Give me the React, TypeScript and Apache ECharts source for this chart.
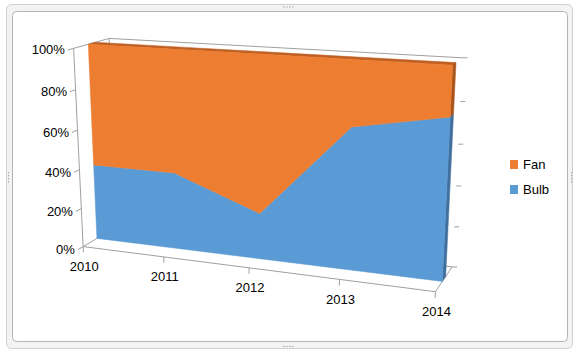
import React, { useEffect, useRef } from "react";
import * as echarts from "echarts";

const categories = ["2010", "2011", "2012", "2013", "2014"];
const bulb = [39, 39, 23, 69, 77];
const fan = [61, 61, 77, 31, 23];
const yTickValues = [0, 20, 40, 60, 80, 100];
const yTickLabels = ["0%", "20%", "40%", "60%", "80%", "100%"];

const FONT = "'Liberation Sans', Arial, sans-serif";
const BLUE = "#5B9BD5";
const ORANGE = "#ED7D31";
const ORANGE_TOP = "#BF5F22";
const ORANGE_SIDE = "#A9551D";
const BLUE_SIDE = "#41709E";
const LINE = "#9f9f9f";

// world (X: category 0..1, Y: value 0..1, Z: depth 0 front .. 1 back) -> screen calibration
const CALIB: number[][] = [
  [0, 1, 0, 73, 48],
  [0, 0, 0, 85, 245],
  [1, 0, 0, 436, 292],
  [0, 1, 1, 110, 38],
  [1, 1, 1, 463, 58],
  [1, 0, 1, 452, 266],
  [0, 1, 0.4, 88, 45],
  [1, 1, 0.4, 452, 65],
  [1, 0, 0.4, 442, 282],
  [0, 0, 0.4, 95, 240],
];
const ZF = 0.4;
const ZB = 0.6;

function solveLinear(M: number[][], r: number[]): number[] {
  const n = r.length;
  const a = M.map((row, i) => [...row, r[i]]);
  for (let c = 0; c < n; c++) {
    let piv = c;
    for (let k = c + 1; k < n; k++) if (Math.abs(a[k][c]) > Math.abs(a[piv][c])) piv = k;
    [a[c], a[piv]] = [a[piv], a[c]];
    for (let k = 0; k < n; k++) {
      if (k === c) continue;
      const f = a[k][c] / a[c][c];
      for (let j = c; j <= n; j++) a[k][j] -= f * a[c][j];
    }
  }
  return a.map((row, i) => row[n] / row[i]);
}

function fitCamera(pts: number[][]): number[] {
  const A: number[][] = [];
  const b: number[] = [];
  for (const [X, Y, Z, u, v] of pts) {
    A.push([X, Y, Z, 1, 0, 0, 0, 0, -u * X, -u * Y, -u * Z]);
    b.push(u);
    A.push([0, 0, 0, 0, X, Y, Z, 1, -v * X, -v * Y, -v * Z]);
    b.push(v);
  }
  const n = 11;
  const M = Array.from({ length: n }, () => new Array(n).fill(0));
  const r = new Array(n).fill(0);
  for (let k = 0; k < A.length; k++) {
    for (let i = 0; i < n; i++) {
      r[i] += A[k][i] * b[k];
      for (let j = 0; j < n; j++) M[i][j] += A[k][i] * A[k][j];
    }
  }
  return solveLinear(M, r);
}

export default function App() {
  const ref = useRef<HTMLDivElement>(null);
  useEffect(() => {
    const el = ref.current!;
    const chart = echarts.init(el, null, { renderer: "svg" });
    const cam = fitCamera(CALIB);
    const proj = (X: number, Y: number, Z: number): number[] => {
      const w = cam[8] * X + cam[9] * Y + cam[10] * Z + 1;
      return [
        (cam[0] * X + cam[1] * Y + cam[2] * Z + cam[3]) / w,
        (cam[4] * X + cam[5] * Y + cam[6] * Z + cam[7]) / w,
      ];
    };
    const n = categories.length;
    const toWorld = (api: any, xi: number, val: number) => {
      const o = api.coord([0, 0]);
      const e = api.coord([n - 1, 100]);
      const c = api.coord([xi, val]);
      return [(c[0] - o[0]) / (e[0] - o[0]), (c[1] - o[1]) / (e[1] - o[1])];
    };
    const poly = (pts: number[][], fill: string) => ({
      type: "polygon",
      shape: { points: pts },
      style: { fill, stroke: fill, lineWidth: 0.5 },
    });

    // one row per series: [lo_0..lo_{n-1}, hi_0..hi_{n-1}]
    const slab = (front: string, side: string, top: string | null) => (_params: any, api: any) => {
      const lo: number[][] = [];
      const hi: number[][] = [];
      for (let k = 0; k < n; k++) {
        lo.push(toWorld(api, k, api.value(k)));
        hi.push(toWorld(api, k, api.value(n + k)));
      }
      const children: any[] = [];
      if (top) {
        const pts: number[][] = [];
        for (let k = 0; k < n; k++) pts.push(proj(hi[k][0], hi[k][1], ZF));
        for (let k = n - 1; k >= 0; k--) pts.push(proj(hi[k][0], hi[k][1], ZB));
        children.push(poly(pts, top));
      }
      const l = lo[n - 1];
      const h = hi[n - 1];
      children.push(poly([proj(l[0], l[1], ZF), proj(h[0], h[1], ZF), proj(h[0], h[1], ZB), proj(l[0], l[1], ZB)], side));
      const face: number[][] = [];
      for (let k = 0; k < n; k++) face.push(proj(lo[k][0], lo[k][1], ZF));
      for (let k = n - 1; k >= 0; k--) face.push(proj(hi[k][0], hi[k][1], ZF));
      children.push(poly(face, front));
      return { type: "group", children };
    };

    const bulbRow = [...bulb.map(() => 0), ...bulb];
    const fanRow = [...bulb, ...fan.map((v, i) => bulb[i] + v)];
    const dims = Array.from({ length: 2 * n }, (_, i) => i);

    // static wall / floor edges
    const edges: number[][][] = [
      [[0, 0, 1], [1, 0, 1]],
      [[0, 0, 1], [0, 1, 1]],
      [[0, 0, 0], [0, 0, 1]],
      [[0, 0, 0], [0, 1, 0]],
      [[0, 1, 0], [0, 1, 1]],
      [[0, 1, 1], [1, 1, 1]],
      [[0, 0, 0], [1, 0, 0]],
      [[1, 0, 0], [1, 0, 1]],
    ];
    const edgeGraphics = edges.map(([a, b]) => {
      const p = proj(a[0], a[1], a[2]);
      const q = proj(b[0], b[1], b[2]);
      return {
        type: "line",
        z: 1,
        shape: { x1: p[0], y1: p[1], x2: q[0], y2: q[1] },
        style: { stroke: LINE, lineWidth: 1 },
      };
    });

    const handleDots = (cx: number, cy: number, vertical: boolean) =>
      [0, 1, 2, 3].map((k) => ({
        type: "rect",
        z: -5,
        shape: vertical
          ? { x: cx, y: cy + k * 3, width: 1, height: 1.5 }
          : { x: cx + k * 3, y: cy, width: 1.5, height: 1 },
        style: { fill: "#a8a8a8" },
      }));

    chart.setOption({
      animation: false,
      grid: { left: 0, top: 0, width: 100, height: 100, show: false },
      xAxis: { type: "category", data: categories, boundaryGap: false, show: false },
      yAxis: { type: "value", min: 0, max: 100, show: false },
      legend: {
        data: ["Fan", "Bulb"],
        orient: "vertical",
        left: 505,
        top: 153,
        itemWidth: 8,
        itemHeight: 9,
        itemGap: 12,
        icon: "rect",
        textStyle: { fontFamily: FONT, fontSize: 13, color: "#000" },
      },
      graphic: [
        {
          type: "rect",
          z: -10,
          shape: { x: 6.5, y: 4.5, width: 566, height: 344, r: 5 },
          style: { fill: "#f3f3f3", stroke: "#cfcfcf", lineWidth: 1 },
        },
        {
          type: "rect",
          z: -9,
          shape: { x: 12.5, y: 11.5, width: 555, height: 330, r: 4 },
          style: { fill: "#ffffff", stroke: "#b4b4b4", lineWidth: 1 },
        },
        ...handleDots(283, 6.5, false),
        ...handleDots(283, 346, false),
        ...handleDots(8, 172, true),
        ...handleDots(571, 172, true),
        ...edgeGraphics,
      ],
      series: [
        {
          type: "custom",
          name: "Bulb",
          z: 5,
          itemStyle: { color: BLUE },
          renderItem: slab(BLUE, BLUE_SIDE, null),
          encode: { y: dims },
          data: [bulbRow],
        },
        {
          type: "custom",
          name: "Fan",
          z: 6,
          itemStyle: { color: ORANGE },
          renderItem: slab(ORANGE, ORANGE_SIDE, ORANGE_TOP),
          encode: { y: dims },
          data: [fanRow],
        },
        {
          type: "custom",
          name: "yLabels",
          z: 7,
          silent: true,
          encode: { x: 0, y: 1 },
          data: yTickValues.map((v) => [0, v]),
          renderItem: (params: any, api: any) => {
            const [, Y] = toWorld(api, 0, api.value(1));
            const p = proj(0, Y, 0);
            const q = proj(0, Y, -0.15);
            const r = proj(1, Y, 1);
            return {
              type: "group",
              children: [
                { type: "line", shape: { x1: p[0], y1: p[1], x2: q[0], y2: q[1] }, style: { stroke: LINE, lineWidth: 1 } },
                { type: "line", shape: { x1: r[0], y1: r[1], x2: r[0] + 5, y2: r[1] }, style: { stroke: LINE, lineWidth: 1 } },
                {
                  type: "text",
                  x: q[0] - 3,
                  y: q[1],
                  style: {
                    text: yTickLabels[params.dataIndex],
                    fill: "#000",
                    font: `13px ${FONT}`,
                    align: "right",
                    verticalAlign: "middle",
                  },
                },
              ],
            };
          },
        },
        {
          type: "custom",
          name: "xLabels",
          z: 7,
          silent: true,
          encode: { x: 0, y: 1 },
          data: categories.map((c, i) => [i, 0]),
          renderItem: (params: any, api: any) => {
            const [X] = toWorld(api, api.value(0), 0);
            const p = proj(X, 0, 0);
            const q = proj(X, -0.03, 0);
            return {
              type: "group",
              children: [
                { type: "line", shape: { x1: p[0], y1: p[1], x2: q[0], y2: q[1] }, style: { stroke: LINE, lineWidth: 1 } },
                {
                  type: "text",
                  x: p[0] + 1,
                  y: p[1] + 20,
                  style: {
                    text: categories[params.dataIndex],
                    fill: "#000",
                    font: `13px ${FONT}`,
                    align: "center",
                    verticalAlign: "middle",
                  },
                },
              ],
            };
          },
        },
      ],
    });
    return () => chart.dispose();
  }, []);
  return (
    <div
      ref={ref}
      style={{ position: "fixed", left: 0, top: 0, width: 581, height: 355, background: "#fff" }}
    />
  );
}
